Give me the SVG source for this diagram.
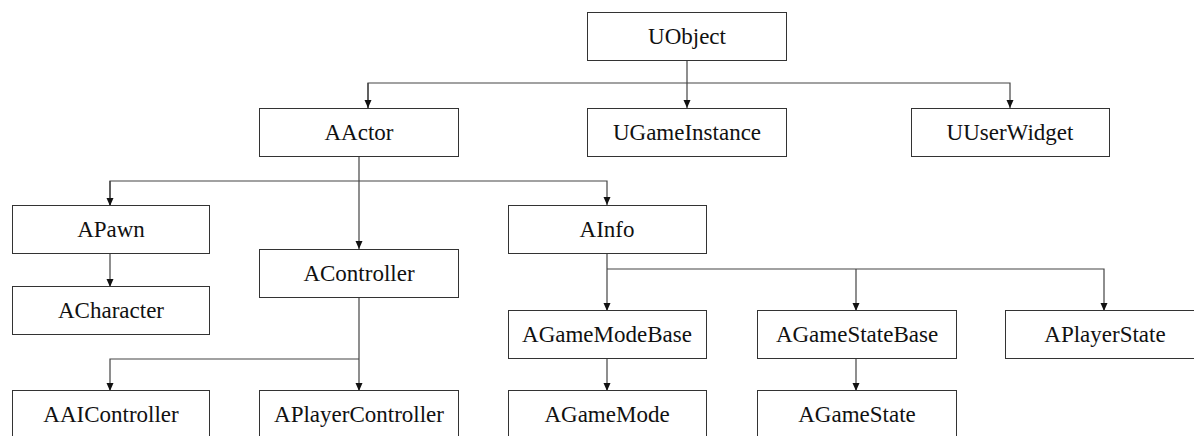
<svg xmlns="http://www.w3.org/2000/svg" width="1194" height="436" viewBox="0 0 1194 436">
<style>
.box{fill:#fff;stroke:#333;stroke-width:1}
text{font-family:"Liberation Serif",Tinos,"Times New Roman",Times,"DejaVu Serif",serif;font-size:23px;fill:#111;text-anchor:middle}
.ln{fill:none;stroke:#444;stroke-width:1.2}
</style>
<defs>
<marker id="a" markerUnits="userSpaceOnUse" markerWidth="8" markerHeight="9" refX="8" refY="4" orient="auto" viewBox="0 0 8 8">
<path d="M0,0.5 L8,4 L0,7.5 Z" fill="#111"/>
</marker>
</defs>
<rect width="1194" height="436" fill="#fff"/>
<g id="connectors">
<path class="ln" d="M687,60 V83"/>
<path class="ln" d="M368,108 V83 H1010 V108" marker-end="url(#a)"/>
<path class="ln" d="M368,83 V108" marker-end="url(#a)"/>
<path class="ln" d="M687,83 V108" marker-end="url(#a)"/>
<path class="ln" d="M359,157 V249" marker-end="url(#a)"/>
<path class="ln" d="M110,205 V181 H607 V205" marker-end="url(#a)"/>
<path class="ln" d="M110,181 V206" marker-end="url(#a)"/>
<path class="ln" d="M110,253 V287" marker-end="url(#a)"/>
<path class="ln" d="M359,297 V391" marker-end="url(#a)"/>
<path class="ln" d="M359,359 H110 V391" marker-end="url(#a)"/>
<path class="ln" d="M607,253 V311" marker-end="url(#a)"/>
<path class="ln" d="M607,269 H1104 V311" marker-end="url(#a)"/>
<path class="ln" d="M856,269 V311" marker-end="url(#a)"/>
<path class="ln" d="M607,358 V391" marker-end="url(#a)"/>
<path class="ln" d="M856,358 V391" marker-end="url(#a)"/>
</g>
<g id="UObject"><rect class="box" x="587.5" y="12.5" width="199" height="48"/><text x="687" y="44" font-family="Liberation Serif">UObject</text></g>
<g id="AActor"><rect class="box" x="259.5" y="108.5" width="199" height="48"/><text x="359" y="140">AActor</text></g>
<g id="UGameInstance"><rect class="box" x="587.5" y="108.5" width="199" height="48"/><text x="687" y="140">UGameInstance</text></g>
<g id="UUserWidget"><rect class="box" x="911.5" y="108.5" width="198" height="48"/><text x="1010" y="140">UUserWidget</text></g>
<g id="APawn"><rect class="box" x="12.5" y="205.5" width="197" height="48"/><text x="111" y="237">APawn</text></g>
<g id="AInfo"><rect class="box" x="508.5" y="205.5" width="198" height="48"/><text x="607" y="237">AInfo</text></g>
<g id="AController"><rect class="box" x="259.5" y="249.5" width="199" height="48"/><text x="359" y="281">AController</text></g>
<g id="ACharacter"><rect class="box" x="12.5" y="286.5" width="197" height="48"/><text x="111" y="318">ACharacter</text></g>
<g id="AGameModeBase"><rect class="box" x="508.5" y="310.5" width="198" height="48"/><text x="607" y="342">AGameModeBase</text></g>
<g id="AGameStateBase"><rect class="box" x="757.5" y="310.5" width="199" height="48"/><text x="857" y="342">AGameStateBase</text></g>
<g id="APlayerState"><rect class="box" x="1005.5" y="310.5" width="199" height="48"/><text x="1105" y="342">APlayerState</text></g>
<g id="AAIController"><rect class="box" x="12.5" y="390.5" width="197" height="48"/><text x="111" y="422">AAIController</text></g>
<g id="APlayerController"><rect class="box" x="259.5" y="390.5" width="199" height="48"/><text x="359" y="422">APlayerController</text></g>
<g id="AGameMode"><rect class="box" x="508.5" y="390.5" width="198" height="48"/><text x="607" y="422">AGameMode</text></g>
<g id="AGameState"><rect class="box" x="757.5" y="390.5" width="199" height="48"/><text x="857" y="422">AGameState</text></g>
</svg>
